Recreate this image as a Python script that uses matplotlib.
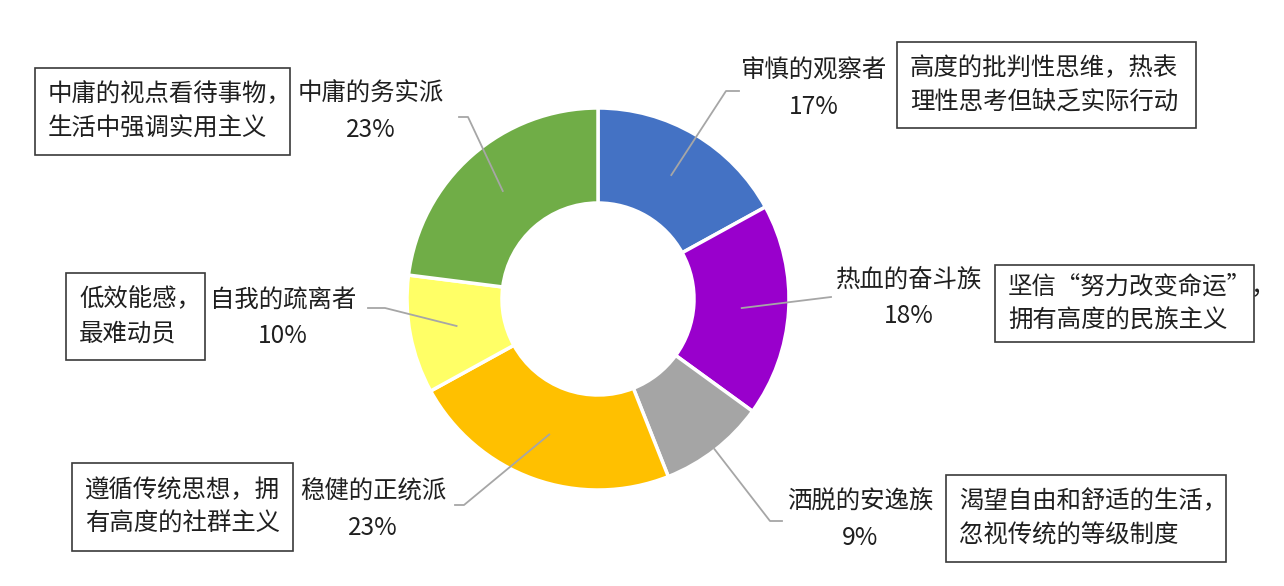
import numpy as np
import matplotlib
matplotlib.use('Agg')
import matplotlib.pyplot as plt
from matplotlib.patches import Rectangle

plt.rcParams['font.family'] = ['Noto Sans CJK SC', 'DejaVu Sans']

# data
names = ['审慎的观察者', '热血的奋斗族', '洒脱的安逸族', '稳健的正统派', '自我的疏离者', '中庸的务实派']
shares = [17, 18, 9, 23, 10, 23]
notes = [
    '高度的批判性思维，热表\n理性思考但缺乏实际行动',
    '坚信“努力改变命运”，\n拥有高度的民族主义',
    '渴望自由和舒适的生活，\n忽视传统的等级制度',
    '遵循传统思想，拥\n有高度的社群主义',
    '低效能感，\n最难动员',
    '中庸的视点看待事物，\n生活中强调实用主义',
]
colors = ['#4472C4', '#9900CC', '#A5A5A5', '#FFC000', '#FFFF66', '#70AD47']

# layout (pixel coords, y from top)
cx, cy, R, W = 598, 299, 191, 95
label_xy = [(814, 71), (909, 280), (860, 502), (373, 492), (283, 300), (371, 94)]
elbow_xy = [[(726, 91), (739, 91)], [(831, 297)], [(770, 521), (782, 521)],
            [(464, 505), (455, 505)], [(385, 308), (368, 308)], [(468, 117), (459, 117)]]
start_r = [144, 144, 190, 144, 144, 144]
box_rect = [(897, 42, 299, 86), (995, 265, 259, 77), (946, 475, 280, 87),
            (72, 463, 221, 88), (66, 273, 139, 87), (35, 68, 255, 87)]

fig = plt.figure(figsize=(12.84, 5.86), dpi=100)
ax = fig.add_axes([0, 0, 1, 1])

# inverted y axis: visual clockwise from top = data counterclockwise from -90
wedges, _ = ax.pie(shares, colors=colors, startangle=-90, counterclock=True,
                   center=(cx, cy), radius=R, frame=True,
                   wedgeprops=dict(width=W, edgecolor='white', linewidth=2.5))
ax.set_xlim(0, 1284)
ax.set_ylim(586, 0)
ax.set_aspect('equal')
ax.axis('off')

fs = 17.6
total = sum(shares)
cum = 0
for i, v in enumerate(shares):
    mid = np.deg2rad(90 - (cum + v / 2) / total * 360)
    cum += v
    sx = cx + start_r[i] * np.cos(mid)
    sy = cy - start_r[i] * np.sin(mid)
    pts = [(sx, sy)] + elbow_xy[i]
    ax.plot([p[0] for p in pts], [p[1] for p in pts], color='#A6A6A6', lw=1.3)

    lx, ly = label_xy[i]
    ax.text(lx, ly, names[i], ha='center', va='center', fontsize=fs, color='#1F1F1F')
    ax.text(lx, ly + 36, f'{v}%', ha='center', va='center', fontsize=fs, color='#1F1F1F')

    bx, by, bw, bh = box_rect[i]
    ax.add_patch(Rectangle((bx, by), bw, bh, fill=False, edgecolor='#3A3A3A', lw=1.2))
    ax.text(bx + 13, by + bh / 2, notes[i], ha='left', va='center', fontsize=fs,
            color='#1F1F1F', linespacing=1.4)

fig.savefig('out.png', dpi=100, facecolor='white')
